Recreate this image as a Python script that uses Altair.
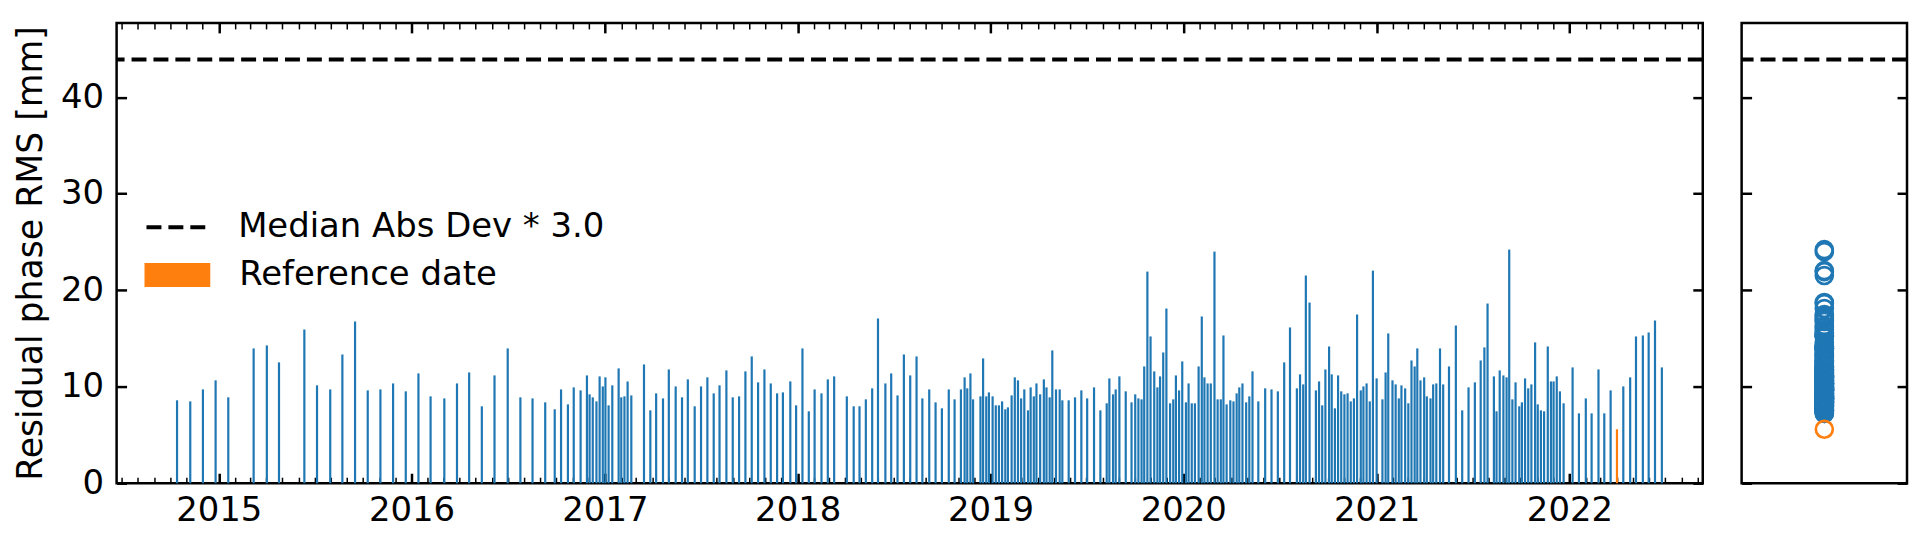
import altair as alt
import pandas as pd

FONT = "DejaVu Sans"
FS = 34
TFS = 34.8

# acquisition dates (decimal years) and residual phase RMS [mm]
dates_dec = [
    2014.786, 2014.853, 2014.920, 2014.985, 2015.050, 2015.183, 2015.250, 2015.313, 2015.445, 2015.511,
    2015.579, 2015.642, 2015.707, 2015.774, 2015.841, 2015.906, 2015.971, 2016.036, 2016.101,
    2016.170, 2016.236, 2016.299, 2016.365, 2016.431, 2016.498, 2016.565, 2016.628, 2016.693, 2016.743,
    2016.774, 2016.811, 2016.841, 2016.875, 2016.908, 2016.923, 2016.938, 2016.957, 2016.974, 2016.990,
    2017.005, 2017.021, 2017.039, 2017.072, 2017.087, 2017.103, 2017.120, 2017.139, 2017.203, 2017.236,
    2017.267, 2017.303, 2017.334, 2017.368, 2017.401, 2017.431, 2017.467, 2017.500, 2017.532, 2017.567,
    2017.597, 2017.632, 2017.664, 2017.696, 2017.729, 2017.762,
    2017.796, 2017.828, 2017.861, 2017.895, 2017.926, 2017.962, 2017.993, 2018.025, 2018.060, 2018.090,
    2018.126, 2018.157, 2018.190, 2018.255, 2018.291, 2018.322, 2018.354, 2018.388, 2018.419, 2018.455,
    2018.486, 2018.518, 2018.553, 2018.584, 2018.619, 2018.649, 2018.683, 2018.717, 2018.748, 2018.784,
    2018.815, 2018.847, 2018.866, 2018.881, 2018.897, 2018.912, 2018.948, 2018.964, 2018.979, 2018.994,
    2019.011, 2019.030, 2019.046, 2019.061, 2019.077, 2019.093, 2019.112, 2019.128, 2019.143, 2019.159,
    2019.178, 2019.195, 2019.210, 2019.225, 2019.241, 2019.258, 2019.277, 2019.292, 2019.308, 2019.323,
    2019.340, 2019.359, 2019.374, 2019.407,
    2019.440, 2019.472, 2019.504, 2019.537, 2019.570, 2019.604, 2019.619, 2019.636, 2019.652, 2019.669,
    2019.702, 2019.734, 2019.751, 2019.768, 2019.784, 2019.799, 2019.815, 2019.832, 2019.851, 2019.866,
    2019.881, 2019.897, 2019.914, 2019.933, 2019.948, 2019.964, 2019.979, 2019.997, 2020.015, 2020.030,
    2020.046, 2020.061, 2020.080, 2020.097, 2020.112, 2020.128, 2020.143, 2020.162, 2020.179, 2020.195,
    2020.210, 2020.225, 2020.244, 2020.261, 2020.277, 2020.292, 2020.308, 2020.326, 2020.344, 2020.359,
    2020.390, 2020.426, 2020.458, 2020.490, 2020.523, 2020.554, 2020.590, 2020.606, 2020.621, 2020.636,
    2020.655, 2020.688, 2020.703, 2020.719, 2020.736, 2020.755, 2020.770, 2020.785, 2020.801, 2020.819,
    2020.835, 2020.852, 2020.868, 2020.883, 2020.900, 2020.919, 2020.934, 2020.950, 2020.965, 2020.982,
    2021.001, 2021.032, 2021.047, 2021.063,
    2021.083, 2021.100, 2021.116, 2021.131, 2021.148, 2021.165, 2021.182, 2021.198, 2021.213, 2021.230,
    2021.248, 2021.263, 2021.280, 2021.295, 2021.312, 2021.331, 2021.347, 2021.378, 2021.413, 2021.444,
    2021.477, 2021.510, 2021.542, 2021.559, 2021.576, 2021.609, 2021.624, 2021.641, 2021.659, 2021.674,
    2021.689, 2021.705, 2021.723, 2021.741, 2021.756, 2021.771, 2021.787, 2021.805, 2021.823, 2021.838,
    2021.854, 2021.869, 2021.888, 2021.905, 2021.920, 2021.936, 2021.951, 2021.970, 2022.018, 2022.052,
    2022.085, 2022.117, 2022.152, 2022.182, 2022.216, 2022.281, 2022.316, 2022.347, 2022.381, 2022.413,
    2022.444, 2022.482,
]
rms_mm = [
    8.59, 8.48, 9.72, 10.66, 8.90, 13.97, 14.28, 12.52, 15.93, 10.14,
    9.72, 13.34, 16.76, 9.62, 9.72, 10.34, 9.52, 11.38, 9.00,
    8.79, 10.34, 11.48, 7.97, 11.17, 13.97, 8.90, 8.79, 8.38, 7.66,
    9.72, 8.17, 9.93, 9.62, 11.17, 9.21, 8.90, 8.48, 11.07, 10.03,
    10.97, 8.07, 10.14, 11.90, 8.90, 9.00, 10.55, 9.10, 12.31, 7.55,
    9.31, 8.79, 11.79, 10.03, 8.90, 10.76, 7.97, 10.03, 10.97, 9.31,
    10.14, 11.69, 8.90, 9.00, 11.59, 13.14,
    10.45, 11.79, 10.34, 9.31, 9.41, 10.55, 8.07, 13.97, 7.45, 9.72,
    9.31, 10.76, 11.07, 9.00, 7.97, 7.97, 8.69, 9.83, 17.07, 10.34,
    11.38, 9.10, 13.34, 11.17, 13.14, 8.79, 9.72, 8.38, 7.76, 9.72,
    8.69, 9.72, 10.97, 9.83, 11.38, 8.69, 9.00, 12.93, 9.00, 9.41,
    9.00, 8.07, 8.07, 8.48, 7.66, 7.86, 9.10, 10.97, 10.66, 8.79,
    9.72, 7.55, 9.93, 9.00, 10.34, 9.21, 10.76, 9.93, 8.90, 13.76,
    9.72, 9.72, 8.59, 8.59,
    8.90, 9.62, 8.79, 9.93, 7.55, 8.28, 10.86, 9.21, 9.72, 11.07,
    9.52, 8.38, 9.21, 8.79, 8.69, 12.10, 21.93, 15.21, 11.59, 9.93,
    11.07, 13.55, 18.10, 8.28, 8.69, 11.17, 9.62, 12.62, 8.38, 10.34,
    8.28, 8.28, 12.10, 17.28, 10.97, 10.34, 10.34, 24.00, 8.69, 8.69,
    15.31, 8.17, 8.59, 8.48, 9.31, 9.93, 10.34, 8.38, 9.00, 11.59,
    8.48, 9.83, 9.72, 9.52, 12.52, 16.14, 9.83, 11.28, 10.24, 21.52,
    18.72, 9.62, 10.55, 8.07, 11.79, 14.17, 11.28, 7.76, 11.17, 9.52,
    9.21, 9.31, 8.48, 8.79, 17.48, 9.62, 10.03, 10.34, 8.48, 22.03,
    10.86, 8.69, 11.48, 15.52,
    10.66, 10.24, 8.79, 10.14, 9.83, 8.28, 12.72, 12.10, 13.97, 10.66,
    10.97, 9.00, 8.79, 10.24, 10.34, 13.97, 10.24, 12.10, 16.34, 7.55,
    9.93, 10.45, 12.72, 14.07, 18.62, 11.07, 7.45, 11.69, 11.17, 10.97,
    24.21, 8.69, 10.45, 7.97, 8.38, 10.86, 9.83, 10.24, 14.59, 8.17,
    7.55, 7.45, 14.17, 10.55, 10.55, 11.07, 9.52, 8.28, 12.00, 7.24,
    8.79, 7.24, 11.79, 7.24, 9.62, 10.03, 10.97, 15.21, 15.31, 15.62,
    16.86, 12.00,
]
ref_date_dec = 2022.249
ref_rms_mm = 5.59
mad_threshold_mm = 43.9
y_tick_values = [0, 10, 20, 30, 40]
legend_labels = ["Median Abs Dev * 3.0", "Reference date"]
series_names = ["Reference date", "Interferogram"]
series_colors = ["#ff7f0e", "#1f77b4"]


def to_ts(d):
    y = int(d)
    a = pd.Timestamp(year=y, month=1, day=1)
    b = pd.Timestamp(year=y + 1, month=1, day=1)
    return (a + (b - a) * (d - y)).floor("D")


n = len(dates_dec)
df = pd.DataFrame({
    "date": [to_ts(d) for d in dates_dec] + [to_ts(ref_date_dec)],
    "rms": rms_mm + [ref_rms_mm],
    "kind": [series_names[1]] * n + [series_names[0]],
    "grp": ["all"] * (n + 1),
})
thr_df = pd.DataFrame({"value": [mad_threshold_mm], "label": [legend_labels[0]]})

xscale = alt.Scale(domain=[alt.DateTime(year=2014, month=7, date=1),
                           alt.DateTime(year=2022, month=9, date=1)], nice=False)
yscale = alt.Scale(domain=[0, 47.7], nice=False, zero=False)
cscale = alt.Scale(domain=series_names, range=series_colors)

YEAR = {"interval": "year", "step": 1}
MONTH = {"interval": "month", "step": 1}


def xtick_axis(orient, size, width, count):
    return alt.Axis(orient=orient, offset=-size, tickSize=size, tickWidth=width, tickColor="black",
                    labels=False, domain=False, grid=False, title=None, tickCount=count)


def ytick_axis(orient, size=10, width=2.5):
    return alt.Axis(orient=orient, offset=-size, tickSize=size, tickWidth=width, tickColor="black",
                    labels=False, domain=False, grid=False, title=None, values=y_tick_values)


x_label_axis = alt.Axis(orient="bottom", format="%Y", tickCount=YEAR, ticks=False, tickSize=0,
                        domain=False, grid=False, title=None, labelFont=FONT, labelFontSize=FS,
                        labelColor="black", labelPadding=10, labelFlush=False)
y_label_axis = alt.Axis(orient="left", values=y_tick_values, ticks=False, tickSize=0, domain=False,
                        grid=False, title="Residual phase RMS [mm]", titleFont=FONT, titleFontSize=TFS,
                        titleFontWeight="normal", titleColor="black", titlePadding=12,
                        labelFont=FONT, labelFontSize=FS, labelColor="black", labelPadding=13)

bars = alt.Chart(df).mark_bar(width=2.2).encode(
    x=alt.X("date:T", scale=xscale, axis=x_label_axis),
    y=alt.Y("rms:Q", scale=yscale, axis=y_label_axis),
    color=alt.Color("kind:N", scale=cscale, legend=alt.Legend(
        title=None, orient="none", legendX=28, legendY=220, values=[legend_labels[1]],
        symbolType="M-1,-0.364H1V0.364H-1Z", symbolSize=4356, symbolStrokeWidth=0,
        symbolOpacity=1, labelFont=FONT, labelFontSize=FS, labelColor="black",
        labelOffset=29, labelLimit=800, padding=0)),
)

thr = alt.Chart(thr_df).mark_rule(color="black", strokeWidth=4).encode(
    y=alt.Y("value:Q", scale=yscale, axis=None),
    strokeDash=alt.StrokeDash("label:N", scale=alt.Scale(domain=[legend_labels[0]], range=[[15, 7]]),
                              legend=alt.Legend(
                                  title=None, orient="none", legendX=28, legendY=170,
                                  symbolType="stroke", symbolSize=4356, symbolStrokeWidth=4,
                                  symbolStrokeColor="black", symbolDash=[15, 7],
                                  labelFont=FONT, labelFontSize=FS, labelColor="black",
                                  labelOffset=24, labelLimit=800, padding=0)),
)


def ghost(xaxis, yaxis):
    return alt.Chart(df).mark_point(opacity=0).encode(
        x=alt.X("date:T", scale=xscale, axis=xaxis),
        y=alt.Y("rms:Q", scale=yscale, axis=yaxis),
    )


g1 = ghost(xtick_axis("bottom", 6, 1.5, MONTH), ytick_axis("left"))
g2 = ghost(xtick_axis("bottom", 10, 2.5, YEAR), ytick_axis("right"))
g3 = ghost(xtick_axis("top", 6, 1.5, MONTH), None)
g4 = ghost(xtick_axis("top", 10, 2.5, YEAR), None)

main = alt.layer(g1, g2, g3, g4, bars, thr).resolve_axis(x="independent", y="independent").properties(
    width=1592, height=462)

pts_blue = alt.Chart(df[df["kind"] == series_names[1]]).mark_point(
    filled=False, size=290, strokeWidth=2.7, opacity=1).encode(
    x=alt.X("grp:N", axis=None),
    y=alt.Y("rms:Q", scale=yscale, axis=ytick_axis("left")),
    color=alt.Color("kind:N", scale=cscale, legend=None),
)
pts_ref = alt.Chart(df[df["kind"] == series_names[0]]).mark_point(
    filled=False, size=290, strokeWidth=2.7, opacity=1).encode(
    x=alt.X("grp:N", axis=None),
    y=alt.Y("rms:Q", scale=yscale, axis=ytick_axis("right")),
    color=alt.Color("kind:N", scale=cscale, legend=None),
)
thr2 = alt.Chart(thr_df).mark_rule(color="black", strokeWidth=4, strokeDash=[15, 7]).encode(
    y=alt.Y("value:Q", scale=yscale, axis=None),
)
side = alt.layer(pts_blue, pts_ref, thr2).resolve_axis(y="independent").properties(width=166, height=462)

chart = alt.hconcat(main, side, spacing=31).resolve_scale(color="independent").properties(
    padding={"left": 4, "top": 11, "right": 0, "bottom": 0}
).configure(font=FONT, view=alt.ViewConfig(stroke="black", strokeWidth=2.5))

chart.save("out.html", embed_options={"renderer": "svg", "actions": False})
